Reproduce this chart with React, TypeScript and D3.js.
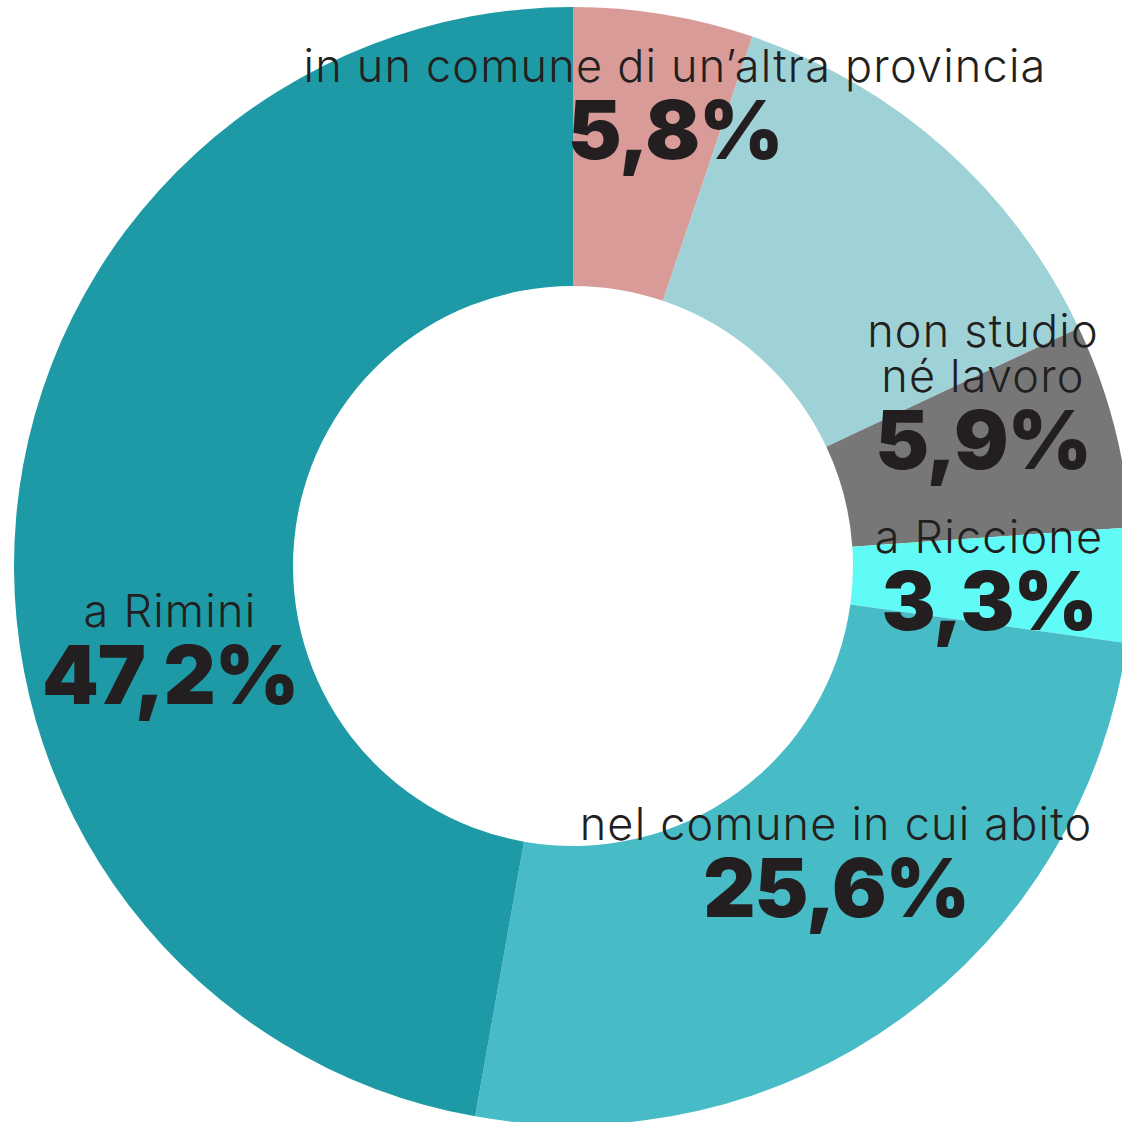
import React from "react";
import * as d3 from "d3";

const categories = [
  "in un comune di un’altra provincia",
  "altro comune della provincia",
  "non studio né lavoro",
  "a Riccione",
  "nel comune in cui abito",
  "a Rimini",
];
const values = [5.2, 12.8, 5.9, 3.3, 25.6, 47.2];
const valueLabels = ["5,8%", "", "5,9%", "3,3%", "25,6%", "47,2%"];
const colors = ["#d99b97", "#9fd2d6", "#777777", "#60fbf6", "#47bbc6", "#1d9aa5"];

const labelLines: string[][] = [
  ["in un comune di un’altra provincia"],
  [],
  ["non studio", "né lavoro"],
  ["a Riccione"],
  ["nel comune in cui abito"],
  ["a Rimini"],
];
// label anchor (center x, baseline of first line)
const labelPos: [number, number][] = [
  [675, 82],
  [0, 0],
  [983, 347],
  [989, 553],
  [836, 840],
  [170, 627],
];

const W = 1122;
const H = 1122;
const cx = 573;
const cy = 566;
const R = 559;
const r = 280;

export default function App() {
  const pie = d3.pie<number>().sort(null).value((d) => d);
  const arcs = pie(values);
  const arc = d3.arc<d3.PieArcDatum<number>>().innerRadius(r).outerRadius(R);
  const lineH = 45;
  const numGap = 77;
  return (
    <svg
      width={W}
      height={H}
      style={{ position: "absolute", left: 0, top: 0, background: "#fff" }}
    >
      <g transform={`translate(${cx},${cy})`}>
        {arcs.map((a, i) => (
          <path key={i} d={arc(a) || ""} fill={colors[i]} />
        ))}
      </g>
      {labelLines.map((lines, i) => {
        if (!lines.length) return null;
        const [x, y] = labelPos[i];
        return (
          <g key={i} fill="#231f20" textAnchor="middle">
            {lines.map((t, j) => (
              <text
                key={j}
                x={x}
                y={y + j * lineH}
                fontFamily="Inter, sans-serif"
                fontWeight={300}
                fontSize={45}
                letterSpacing={1.2}
              >
                {t}
              </text>
            ))}
            <text
              x={x}
              y={y + (lines.length - 1) * lineH + numGap}
              fontFamily="Inter, sans-serif"
              fontWeight={900}
              fontSize={81}
              letterSpacing={-1.2}
            >
              {valueLabels[i]}
            </text>
          </g>
        );
      })}
    </svg>
  );
}
